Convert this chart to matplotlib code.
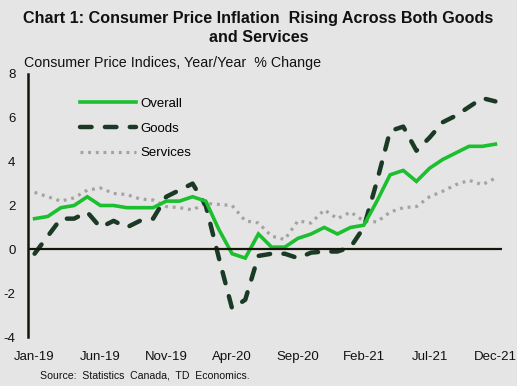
import matplotlib
matplotlib.use("Agg")
import matplotlib.pyplot as plt
import numpy as np

plt.rcParams['font.family'] = ['Liberation Sans', 'DejaVu Sans']

months = ["Jan-19","Feb-19","Mar-19","Apr-19","May-19","Jun-19","Jul-19","Aug-19","Sep-19","Oct-19","Nov-19","Dec-19",
          "Jan-20","Feb-20","Mar-20","Apr-20","May-20","Jun-20","Jul-20","Aug-20","Sep-20","Oct-20","Nov-20","Dec-20",
          "Jan-21","Feb-21","Mar-21","Apr-21","May-21","Jun-21","Jul-21","Aug-21","Sep-21","Oct-21","Nov-21","Dec-21"]

overall = [1.4, 1.5, 1.9, 2.0, 2.4, 2.0, 2.0, 1.9, 1.9, 1.9, 2.2, 2.2,
           2.4, 2.2, 0.9, -0.2, -0.4, 0.7, 0.1, 0.1, 0.5, 0.7, 1.0, 0.7,
           1.0, 1.1, 2.2, 3.4, 3.6, 3.1, 3.7, 4.1, 4.4, 4.7, 4.7, 4.8]

goods = [-0.2, 0.6, 1.4, 1.4, 1.7, 1.0, 1.3, 1.0, 1.3, 1.4, 2.4, 2.7,
         3.0, 2.0, -0.4, -2.7, -2.3, -0.3, -0.2, -0.2, -0.4, -0.15, -0.1, -0.1,
         0.1, 1.0, 3.1, 5.4, 5.6, 4.5, 5.1, 5.8, 6.1, 6.5, 6.9, 6.75]

services = [2.6, 2.4, 2.2, 2.35, 2.7, 2.8, 2.55, 2.5, 2.3, 2.25, 1.95, 1.9,
            1.8, 2.1, 2.05, 2.0, 1.3, 1.2, 0.6, 0.45, 1.3, 1.2, 1.8, 1.4,
            1.7, 1.3, 1.25, 1.7, 1.9, 1.95, 2.4, 2.65, 2.95, 3.15, 2.95, 3.25]

tick_labels = ["Jan-19", "Jun-19", "Nov-19", "Apr-20", "Sep-20", "Feb-21", "Jul-21", "Dec-21"]
y_ticks = [-4, -2, 0, 2, 4, 6, 8]

W, H = 517, 386
bg = '#e5e5e5'
fig = plt.figure(figsize=(W/100, H/100), dpi=100, facecolor=bg)
ax = fig.add_axes([28/W, 1-337/H, (502-28)/W, (337-74)/H], facecolor=bg)

x = np.arange(len(months))
l1, = ax.plot(x, overall, color='#1cbf2e', lw=2.6, solid_joinstyle='miter', label='Overall', zorder=4)
l2, = ax.plot(x, goods, color='#1b3a26', lw=3.2, dashes=(2.6, 3.0), dash_capstyle='round', label='Goods', zorder=3)
l3, = ax.plot(x, services, color='#a3a3a3', lw=2.3, dashes=(0.9, 1.5), label='Services', zorder=2)

ax.set_xlim(-0.5, len(months)-0.5)
ax.set_ylim(-4, 8)
ax.axhline(0, color='#15150a', lw=1.6, zorder=5)

for s in ['top', 'right', 'bottom']:
    ax.spines[s].set_visible(False)
ax.spines['left'].set_color('#15150a')
ax.spines['left'].set_linewidth(1.8)

ax.set_yticks(y_ticks)
ax.set_yticklabels([str(v) for v in y_ticks])
ax.set_xticks([months.index(t) for t in tick_labels])
ax.set_xticklabels(tick_labels)
ax.tick_params(axis='both', length=0, labelsize=9.5, colors='#111111')
ax.tick_params(axis='y', pad=9)
ax.tick_params(axis='x', pad=10)

leg = ax.legend(handles=[l1, l2, l3], loc='upper left', bbox_to_anchor=(0.085, 0.955),
                frameon=False, fontsize=9.5, handlelength=4.2, handletextpad=0.4,
                labelspacing=0.95)

fig.text(0.5, 1-18/H, "Chart 1: Consumer Price Inflation  Rising Across Both Goods", ha='center', va='center',
         fontsize=11.6, fontweight='bold', color='#111111')
fig.text(0.5, 1-37/H, "and Services", ha='center', va='center',
         fontsize=11.6, fontweight='bold', color='#111111')
fig.text(24/W, 1-63/H, "Consumer Price Indices, Year/Year  % Change", ha='left', va='center',
         fontsize=10.3, color='#111111')
fig.text(40/W, 1-376/H, "Source:  Statistics  Canada,  TD  Economics.", ha='left', va='center',
         fontsize=7.6, color='#111111')

fig.savefig('out.png', dpi=100, facecolor=bg)
